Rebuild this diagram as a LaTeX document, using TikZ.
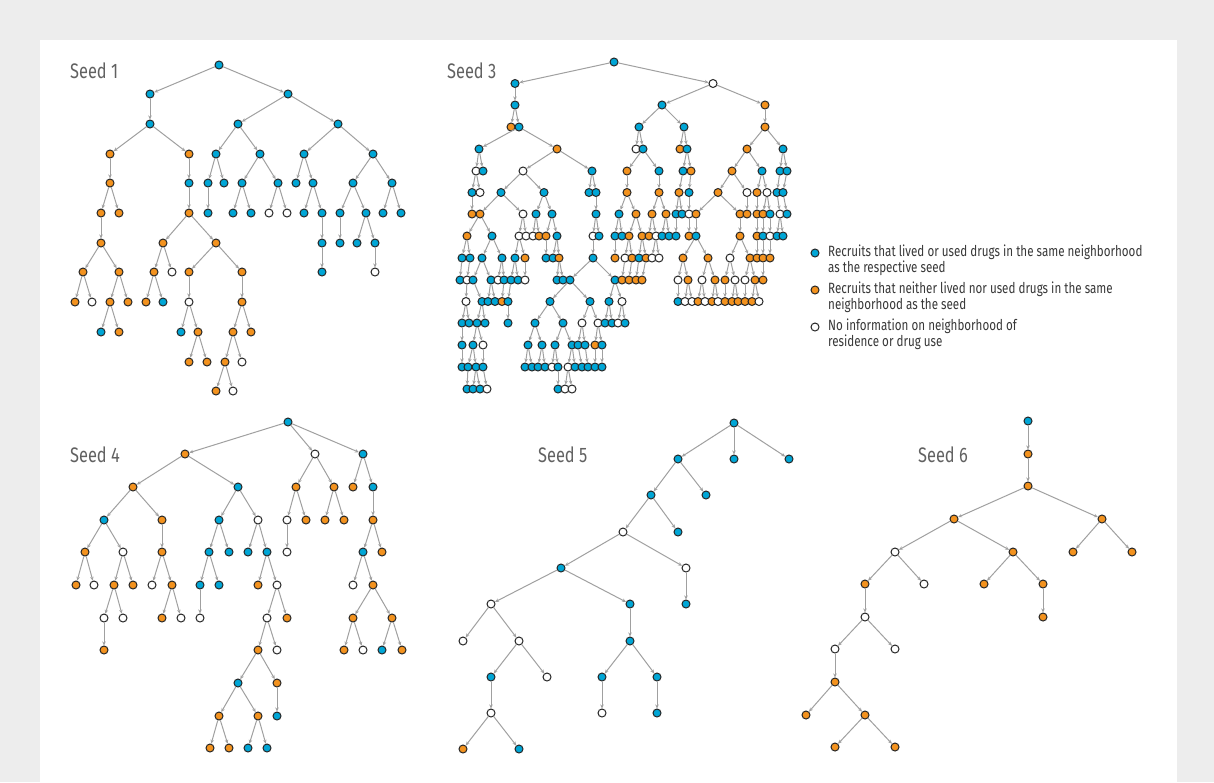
\documentclass[tikz,border=0pt]{standalone}
\usepackage{fontspec}
\setmainfont{Fira Sans}[FakeStretch=0.78]
\usetikzlibrary{arrows.meta}

\definecolor{seedblue}{RGB}{0,166,214}
\definecolor{seedorange}{RGB}{243,146,30}
\definecolor{edgegray}{RGB}{160,160,160}
\definecolor{panelgray}{RGB}{237,237,237}

\begin{document}
\begin{tikzpicture}
[
    x=1pt, y=-1pt,
    base_node/.style={circle, draw=black!85, line width=1pt, inner sep=0pt, minimum size=8pt},
    blue_node/.style={base_node, fill=seedblue},
    orange_node/.style={base_node, fill=seedorange},
    white_node/.style={base_node, fill=white},
    rec_edge/.style={-{Stealth[length=4pt, width=3.5pt]}, draw=edgegray, line width=1pt},
    seed_label/.style={anchor=west, inner sep=0pt, text=black!62, font=\fontsize{21}{24}\selectfont},
    key_text/.style={anchor=north west, inner sep=0pt, align=left, text=black!78, font=\fontsize{14.9}{15.5}\selectfont},
]
    \useasboundingbox (0,0) rectangle (1214,782);
    \fill[panelgray] (0,0) rectangle (1214,782);
    \fill[white] (40,40) rectangle (1177,782);

    % seed 1
    \node[seed_label] (label1) at (70,71) {Seed 1};
    \node[blue_node] (a0x219) at (219,65) {};
    \foreach \x/\s/\p in {150/blue_node/219, 288/blue_node/219}
        {\node[\s] (a1x\x) at (\x,94) {}; \draw[rec_edge] (a0x\p) -- (a1x\x);}
    \foreach \x/\s/\p in {150/blue_node/150, 238/blue_node/288, 338/blue_node/288}
        {\node[\s] (a2x\x) at (\x,124) {}; \draw[rec_edge] (a1x\p) -- (a2x\x);}
    \foreach \x/\s/\p in {110/orange_node/150, 189/orange_node/150, 216/blue_node/238, 260/blue_node/238, 304/blue_node/338, 373/blue_node/338}
        {\node[\s] (a3x\x) at (\x,154) {}; \draw[rec_edge] (a2x\p) -- (a3x\x);}
    \foreach \x/\s/\p in {110/orange_node/110, 189/blue_node/189, 208/blue_node/216, 224/blue_node/216, 242/blue_node/260, 278/blue_node/260, 296/blue_node/304, 313/blue_node/304, 353/blue_node/373, 392/blue_node/373}
        {\node[\s] (a4x\x) at (\x,183) {}; \draw[rec_edge] (a3x\p) -- (a4x\x);}
    \foreach \x/\s/\p in {101/orange_node/110, 119/orange_node/110, 189/orange_node/189, 208/blue_node/208, 233/blue_node/242, 251/blue_node/242, 269/white_node/278, 287/white_node/278, 304/blue_node/313, 322/blue_node/313, 340/blue_node/353, 366/blue_node/353, 383/blue_node/392, 401/blue_node/392}
        {\node[\s] (a5x\x) at (\x,213) {}; \draw[rec_edge] (a4x\p) -- (a5x\x);}
    \foreach \x/\s/\p in {101/orange_node/101, 163/orange_node/189, 216/orange_node/189, 322/blue_node/322, 340/blue_node/340, 357/blue_node/366, 375/blue_node/366}
        {\node[\s] (a6x\x) at (\x,243) {}; \draw[rec_edge] (a5x\p) -- (a6x\x);}
    \foreach \x/\s/\p in {83/orange_node/101, 119/orange_node/101, 154/orange_node/163, 172/white_node/163, 189/orange_node/216, 242/orange_node/216, 322/blue_node/322, 375/white_node/375}
        {\node[\s] (a7x\x) at (\x,272) {}; \draw[rec_edge] (a6x\p) -- (a7x\x);}
    \foreach \x/\s/\p in {75/orange_node/83, 92/white_node/83, 110/orange_node/119, 128/orange_node/119, 146/orange_node/154, 163/blue_node/154, 189/white_node/189, 242/orange_node/242}
        {\node[\s] (a8x\x) at (\x,302) {}; \draw[rec_edge] (a7x\p) -- (a8x\x);}
    \foreach \x/\s/\p in {101/blue_node/110, 119/orange_node/110, 181/blue_node/189, 198/orange_node/189, 233/orange_node/242, 251/orange_node/242}
        {\node[\s] (a9x\x) at (\x,332) {}; \draw[rec_edge] (a8x\p) -- (a9x\x);}
    \foreach \x/\s/\p in {189/orange_node/198, 207/orange_node/198, 225/orange_node/233, 242/white_node/233}
        {\node[\s] (a10x\x) at (\x,362) {}; \draw[rec_edge] (a9x\p) -- (a10x\x);}
    \foreach \x/\s/\p in {216/orange_node/225, 233/white_node/225}
        {\node[\s] (a11x\x) at (\x,391) {}; \draw[rec_edge] (a10x\p) -- (a11x\x);}

    % seed 3
    \node[seed_label] (label3) at (447,71) {Seed 3};
    \node[blue_node] (c0x614) at (614,62) {};
    \foreach \x/\s/\p in {515/blue_node/614, 713/white_node/614}
        {\node[\s] (c1x\x) at (\x,83.5) {}; \draw[rec_edge] (c0x\p) -- (c1x\x);}
    \foreach \x/\s/\p in {515/blue_node/515, 662/blue_node/713, 765/orange_node/713}
        {\node[\s] (c2x\x) at (\x,105) {}; \draw[rec_edge] (c1x\p) -- (c2x\x);}
    \foreach \x/\s/\p in {511/orange_node/515, 519/blue_node/515, 639/blue_node/662, 684/blue_node/662, 765/orange_node/765}
        {\node[\s] (c3x\x) at (\x,127) {}; \draw[rec_edge] (c2x\p) -- (c3x\x);}
    \foreach \x/\s/\p in {479/blue_node/519, 557/orange_node/519, 636/white_node/639, 643/blue_node/639, 680/orange_node/684, 687/blue_node/684, 747/orange_node/765, 783/blue_node/765}
        {\node[\s] (c4x\x) at (\x,149) {}; \draw[rec_edge] (c3x\p) -- (c4x\x);}
    \foreach \x/\s/\p in {476/white_node/479, 483/blue_node/479, 523/white_node/557, 592/blue_node/557, 627/orange_node/643, 659/blue_node/643, 683/blue_node/687, 691/orange_node/687, 732/orange_node/747, 762/blue_node/747, 780/blue_node/783, 787/blue_node/783}
        {\node[\s] (c5x\x) at (\x,171) {}; \draw[rec_edge] (c4x\p) -- (c5x\x);}
    \foreach \x/\s/\p in {472/blue_node/476, 480/white_node/476, 501/blue_node/523, 544/blue_node/523, 589/blue_node/592, 596/blue_node/592, 627/orange_node/627, 659/orange_node/659, 679/orange_node/683, 689/blue_node/691, 718/orange_node/732, 747/white_node/732, 757/orange_node/762, 767/white_node/762, 777/blue_node/780, 783/blue_node/787}
        {\node[\s] (c6x\x) at (\x,192.5) {}; \draw[rec_edge] (c5x\p) -- (c6x\x);}
    \foreach \x/\s/\p in {472/orange_node/472, 480/orange_node/501, 523/white_node/501, 536/blue_node/544, 552/blue_node/544, 596/blue_node/596, 619/blue_node/627, 636/orange_node/627, 652/orange_node/659, 666/orange_node/659, 676/blue_node/679, 682/blue_node/679, 689/white_node/689, 696/orange_node/718, 740/orange_node/718, 747/orange_node/747, 757/orange_node/757, 763/orange_node/767, 770/blue_node/767, 780/white_node/777, 787/blue_node/783}
        {\node[\s] (c7x\x) at (\x,214) {}; \draw[rec_edge] (c6x\p) -- (c7x\x);}
    \foreach \x/\s/\p in {467/orange_node/480, 492/blue_node/480, 519/white_node/523, 526/white_node/523, 533/white_node/536, 539/orange_node/536, 546/orange_node/552, 557/blue_node/552, 593/white_node/596, 599/blue_node/596, 615/blue_node/619, 622/blue_node/619, 629/orange_node/636, 642/orange_node/636, 649/orange_node/652, 656/white_node/652, 662/blue_node/666, 669/blue_node/666, 676/blue_node/676, 689/orange_node/689, 696/blue_node/696, 740/orange_node/740, 757/orange_node/757, 763/blue_node/763, 770/white_node/770, 777/blue_node/780, 783/blue_node/780}
        {\node[\s] (c8x\x) at (\x,236) {}; \draw[rec_edge] (c7x\p) -- (c8x\x);}
    \foreach \x/\s/\p in {462/blue_node/467, 470/blue_node/467, 482/blue_node/492, 502/blue_node/492, 515/blue_node/519, 525/orange_node/519, 546/blue_node/546, 553/blue_node/557, 559/orange_node/557, 593/blue_node/593, 615/orange_node/615, 625/white_node/629, 632/orange_node/629, 639/blue_node/642, 646/orange_node/642, 652/white_node/656, 659/white_node/656, 683/orange_node/696, 708/orange_node/696, 730/white_node/740, 750/orange_node/740, 757/orange_node/757, 763/orange_node/763, 770/orange_node/770}
        {\node[\s] (c9x\x) at (\x,258) {}; \draw[rec_edge] (c8x\p) -- (c9x\x);}
    \foreach \x/\s/\p in {460/blue_node/462, 467/white_node/470, 473/blue_node/482, 491/blue_node/482, 498/white_node/502, 504/blue_node/502, 511/blue_node/515, 518/blue_node/515, 525/white_node/525, 557/blue_node/559, 563/blue_node/559, 570/blue_node/593, 615/blue_node/593, 622/orange_node/625, 629/orange_node/632, 636/orange_node/639, 642/orange_node/646, 678/white_node/683, 688/orange_node/683, 702/white_node/708, 715/orange_node/708, 725/orange_node/730, 735/white_node/730, 745/white_node/750, 755/orange_node/750, 763/orange_node/763}
        {\node[\s] (c10x\x) at (\x,280) {}; \draw[rec_edge] (c9x\p) -- (c10x\x);}
    \foreach \x/\s/\p in {466/white_node/467, 482/blue_node/473, 488/blue_node/491, 495/blue_node/491, 502/orange_node/504, 508/blue_node/511, 550/blue_node/570, 590/blue_node/570, 609/blue_node/615, 622/white_node/615, 678/blue_node/678, 685/white_node/688, 692/white_node/688, 698/orange_node/702, 705/white_node/702, 712/orange_node/715, 718/white_node/715, 725/orange_node/725, 732/orange_node/735, 738/orange_node/735, 745/orange_node/745, 752/orange_node/755, 759/white_node/755}
        {\node[\s] (c11x\x) at (\x,301.5) {}; \draw[rec_edge] (c10x\p) -- (c11x\x);}
    \foreach \x/\s/\p in {462/blue_node/466, 469/blue_node/466, 477/blue_node/482, 485/blue_node/482, 508/blue_node/508, 535/blue_node/550, 563/blue_node/550, 582/white_node/590, 598/white_node/590, 605/blue_node/609, 612/blue_node/609, 618/white_node/622, 625/blue_node/622}
        {\node[\s] (c12x\x) at (\x,323) {}; \draw[rec_edge] (c11x\p) -- (c12x\x);}
    \foreach \x/\s/\p in {462/blue_node/462, 473/blue_node/477, 483/white_node/477, 528/blue_node/535, 542/blue_node/535, 555/blue_node/563, 572/blue_node/563, 578/blue_node/582, 585/blue_node/582, 595/orange_node/598, 602/blue_node/598}
        {\node[\s] (c13x\x) at (\x,345) {}; \draw[rec_edge] (c12x\p) -- (c13x\x);}
    \foreach \x/\s/\p in {462/blue_node/462, 468/blue_node/473, 476/blue_node/473, 483/blue_node/483, 525/blue_node/528, 532/blue_node/528, 538/blue_node/542, 545/blue_node/542, 552/white_node/555, 558/blue_node/555, 568/white_node/572, 575/blue_node/572, 582/blue_node/578, 588/blue_node/585, 595/blue_node/595, 602/blue_node/602}
        {\node[\s] (c14x\x) at (\x,367) {}; \draw[rec_edge] (c13x\p) -- (c14x\x);}
    \foreach \x/\s/\p in {467/blue_node/468, 473/blue_node/476, 480/blue_node/476, 487/white_node/483, 558/blue_node/558, 565/white_node/568, 572/white_node/568}
        {\node[\s] (c15x\x) at (\x,389) {}; \draw[rec_edge] (c14x\p) -- (c15x\x);}

    % seed 4
    \node[seed_label] (label4) at (70,455) {Seed 4};
    \node[blue_node] (d0x288) at (288,422) {};
    \foreach \x/\s/\p in {185/orange_node/288, 315/white_node/288, 363/blue_node/288}
        {\node[\s] (d1x\x) at (\x,454) {}; \draw[rec_edge] (d0x\p) -- (d1x\x);}
    \foreach \x/\s/\p in {133/orange_node/185, 238/blue_node/185, 296/orange_node/315, 334/orange_node/315, 353/orange_node/363, 373/blue_node/363}
        {\node[\s] (d2x\x) at (\x,487) {}; \draw[rec_edge] (d1x\p) -- (d2x\x);}
    \foreach \x/\s/\p in {104/blue_node/133, 162/orange_node/133, 219/blue_node/238, 258/white_node/238, 287/white_node/296, 306/orange_node/296, 325/orange_node/334, 344/orange_node/334, 373/orange_node/373}
        {\node[\s] (d3x\x) at (\x,520) {}; \draw[rec_edge] (d2x\p) -- (d3x\x);}
    \foreach \x/\s/\p in {85/orange_node/104, 123/white_node/104, 162/orange_node/162, 209/blue_node/219, 229/blue_node/219, 248/blue_node/258, 267/blue_node/258, 287/white_node/287, 363/blue_node/373, 382/orange_node/373}
        {\node[\s] (d4x\x) at (\x,552) {}; \draw[rec_edge] (d3x\p) -- (d4x\x);}
    \foreach \x/\s/\p in {76/orange_node/85, 94/white_node/85, 114/orange_node/123, 133/orange_node/123, 152/white_node/162, 172/orange_node/162, 200/blue_node/209, 219/blue_node/209, 258/orange_node/267, 277/white_node/267, 353/white_node/363, 373/orange_node/363}
        {\node[\s] (d5x\x) at (\x,585) {}; \draw[rec_edge] (d4x\p) -- (d5x\x);}
    \foreach \x/\s/\p in {104/white_node/114, 123/white_node/114, 162/orange_node/172, 181/white_node/172, 200/white_node/200, 267/white_node/277, 287/orange_node/277, 353/orange_node/373, 392/orange_node/373}
        {\node[\s] (d6x\x) at (\x,618) {}; \draw[rec_edge] (d5x\p) -- (d6x\x);}
    \foreach \x/\s/\p in {104/orange_node/104, 258/orange_node/267, 277/white_node/267, 344/orange_node/353, 363/white_node/353, 382/blue_node/392, 402/orange_node/392}
        {\node[\s] (d7x\x) at (\x,650) {}; \draw[rec_edge] (d6x\p) -- (d7x\x);}
    \foreach \x/\s/\p in {238/blue_node/258, 277/orange_node/258}
        {\node[\s] (d8x\x) at (\x,683) {}; \draw[rec_edge] (d7x\p) -- (d8x\x);}
    \foreach \x/\s/\p in {219/orange_node/238, 258/orange_node/238, 277/blue_node/277}
        {\node[\s] (d9x\x) at (\x,716) {}; \draw[rec_edge] (d8x\p) -- (d9x\x);}
    \foreach \x/\s/\p in {210/orange_node/219, 229/orange_node/219, 248/blue_node/258, 267/blue_node/258}
        {\node[\s] (d10x\x) at (\x,748) {}; \draw[rec_edge] (d9x\p) -- (d10x\x);}

    % seed 5
    \node[seed_label] (label5) at (538,455) {Seed 5};
    \node[blue_node] (e0x734) at (734,423) {};
    \foreach \x/\s/\p in {678/blue_node/734, 734/blue_node/734, 789/blue_node/734}
        {\node[\s] (e1x\x) at (\x,459) {}; \draw[rec_edge] (e0x\p) -- (e1x\x);}
    \foreach \x/\s/\p in {651/blue_node/678, 706/blue_node/678}
        {\node[\s] (e2x\x) at (\x,495) {}; \draw[rec_edge] (e1x\p) -- (e2x\x);}
    \foreach \x/\s/\p in {623/white_node/651, 678/blue_node/651}
        {\node[\s] (e3x\x) at (\x,532) {}; \draw[rec_edge] (e2x\p) -- (e3x\x);}
    \foreach \x/\s/\p in {561/blue_node/623, 686/white_node/623}
        {\node[\s] (e4x\x) at (\x,568) {}; \draw[rec_edge] (e3x\p) -- (e4x\x);}
    \foreach \x/\s/\p in {491/white_node/561, 630/blue_node/561, 686/blue_node/686}
        {\node[\s] (e5x\x) at (\x,604) {}; \draw[rec_edge] (e4x\p) -- (e5x\x);}
    \foreach \x/\s/\p in {463/white_node/491, 519/white_node/491, 630/blue_node/630}
        {\node[\s] (e6x\x) at (\x,641) {}; \draw[rec_edge] (e5x\p) -- (e6x\x);}
    \foreach \x/\s/\p in {491/blue_node/519, 547/white_node/519, 602/blue_node/630, 657/blue_node/630}
        {\node[\s] (e7x\x) at (\x,677) {}; \draw[rec_edge] (e6x\p) -- (e7x\x);}
    \foreach \x/\s/\p in {491/white_node/491, 602/white_node/602, 657/blue_node/657}
        {\node[\s] (e8x\x) at (\x,713) {}; \draw[rec_edge] (e7x\p) -- (e8x\x);}
    \foreach \x/\s/\p in {463/orange_node/491, 519/blue_node/491}
        {\node[\s] (e9x\x) at (\x,749) {}; \draw[rec_edge] (e8x\p) -- (e9x\x);}

    % seed 6
    \node[seed_label] (label6) at (918,455) {Seed 6};
    \node[blue_node] (f0x1028) at (1028,421) {};
    \foreach \x/\s/\p in {1028/orange_node/1028}
        {\node[\s] (f1x\x) at (\x,454) {}; \draw[rec_edge] (f0x\p) -- (f1x\x);}
    \foreach \x/\s/\p in {1028/orange_node/1028}
        {\node[\s] (f2x\x) at (\x,486) {}; \draw[rec_edge] (f1x\p) -- (f2x\x);}
    \foreach \x/\s/\p in {954/orange_node/1028, 1102/orange_node/1028}
        {\node[\s] (f3x\x) at (\x,519) {}; \draw[rec_edge] (f2x\p) -- (f3x\x);}
    \foreach \x/\s/\p in {895/white_node/954, 1013/orange_node/954, 1073/orange_node/1102, 1132/orange_node/1102}
        {\node[\s] (f4x\x) at (\x,552) {}; \draw[rec_edge] (f3x\p) -- (f4x\x);}
    \foreach \x/\s/\p in {865/orange_node/895, 924/white_node/895, 984/orange_node/1013, 1043/orange_node/1013}
        {\node[\s] (f5x\x) at (\x,584) {}; \draw[rec_edge] (f4x\p) -- (f5x\x);}
    \foreach \x/\s/\p in {865/white_node/865, 1043/orange_node/1043}
        {\node[\s] (f6x\x) at (\x,617) {}; \draw[rec_edge] (f5x\p) -- (f6x\x);}
    \foreach \x/\s/\p in {835/white_node/865, 895/white_node/865}
        {\node[\s] (f7x\x) at (\x,649) {}; \draw[rec_edge] (f6x\p) -- (f7x\x);}
    \foreach \x/\s/\p in {835/orange_node/835}
        {\node[\s] (f8x\x) at (\x,682) {}; \draw[rec_edge] (f7x\p) -- (f8x\x);}
    \foreach \x/\s/\p in {806/orange_node/835, 865/orange_node/835}
        {\node[\s] (f9x\x) at (\x,715) {}; \draw[rec_edge] (f8x\p) -- (f9x\x);}
    \foreach \x/\s/\p in {835/orange_node/865, 895/orange_node/865}
        {\node[\s] (f10x\x) at (\x,747) {}; \draw[rec_edge] (f9x\p) -- (f10x\x);}

    % key
    \node[blue_node] (keyblue) at (815,253) {};
    \node[orange_node] (keyorange) at (815,290) {};
    \node[white_node] (keywhite) at (815,327) {};
    \node[key_text] (textblue) at (828,245) {Recruits that lived or used drugs in the same neighborhood\\as the respective seed};
    \node[key_text] (textorange) at (828,282) {Recruits that neither lived nor used drugs in the same\\neighborhood as the seed};
    \node[key_text] (textwhite) at (828,319) {No information on neighborhood of\\residence or drug use};
\end{tikzpicture}
\end{document}
